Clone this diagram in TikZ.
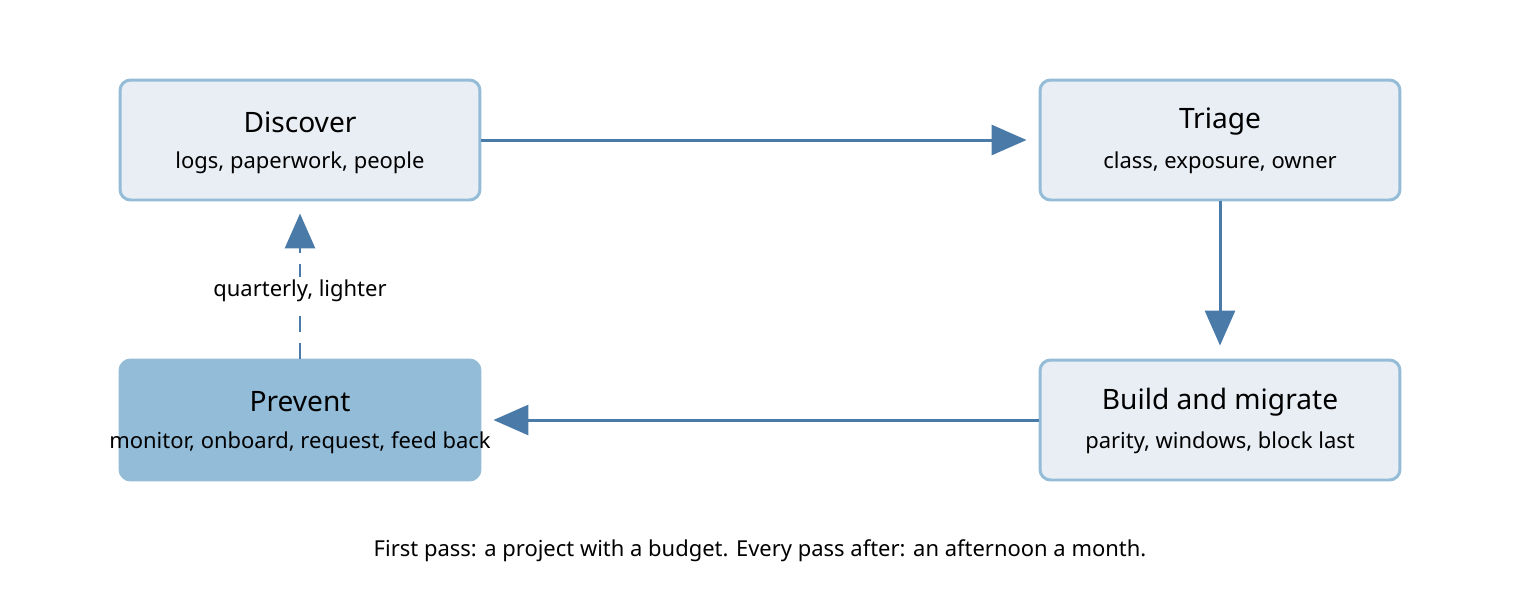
\documentclass[tikz,border=0pt]{standalone}
\usepackage{fontspec}
\setmainfont{Noto Sans}
\usetikzlibrary{positioning, arrows.meta}
\definecolor{boxfill}{HTML}{E8EEF4}
\definecolor{boxline}{HTML}{93BCD8}
\definecolor{flow}{HTML}{4A7AA8}
\tikzset{
  stage/.style={draw=boxline, fill=boxfill, line width=1.7pt, rounded corners=6pt,
    minimum width=7.2cm, minimum height=2.4cm, inner sep=0pt},
  focus/.style={stage, fill=boxline},
  flowline/.style={draw=flow, line width=1.7pt, -{Triangle[length=0.7cm, width=0.6cm]}},
  head/.style={font=\bfseries\fontsize{16}{19}\selectfont},
  sub/.style={font=\fontsize{12.5}{15}\selectfont}
}
\begin{document}
\begin{tikzpicture}[x=0.02cm, y=-0.02cm]
  \useasboundingbox (0,0) rectangle (1520,600);

  \node[stage] (disc) at (300,140) {};
  \node[stage] (tri) at (1220,140) {};
  \node[stage] (build) at (1220,420) {};
  \node[focus] (prev) at (300,420) {};

  % titles and details
  \node[head] (discT) at (300,122) {Discover};
  \node[sub] (discS) at (300,163) {logs, paperwork, people};
  \node[head] (triT) at (1220,122) {Triage};
  \node[sub] (triS) at (1220,163) {class, exposure, owner};
  \node[head] (buildT) at (1220,402) {Build and migrate};
  \node[sub] (buildS) at (1220,443) {parity, windows, block last};
  \node[head] (prevT) at (300,402) {Prevent};
  \node[sub] (prevS) at (300,443) {monitor, onboard, request, feed back};

  \draw[flowline, shorten >=0.24cm] (disc.east) -- (tri.west);
  \draw[flowline, shorten >=0.26cm] (tri.south) -- (build.north);
  \draw[flowline, shorten >=0.24cm] (build.west) -- (prev.east);
  \draw[flowline, dash pattern=on 9pt off 6pt, shorten >=0.24cm] (prev.north) -- (disc.south);
  \node[sub, fill=white, inner sep=2pt] (lbl) at (300,291) {quarterly, lighter};

  \node[sub] (note) at (760,551) {First pass: a project with a budget. Every pass after: an afternoon a month.};
\end{tikzpicture}
\end{document}
